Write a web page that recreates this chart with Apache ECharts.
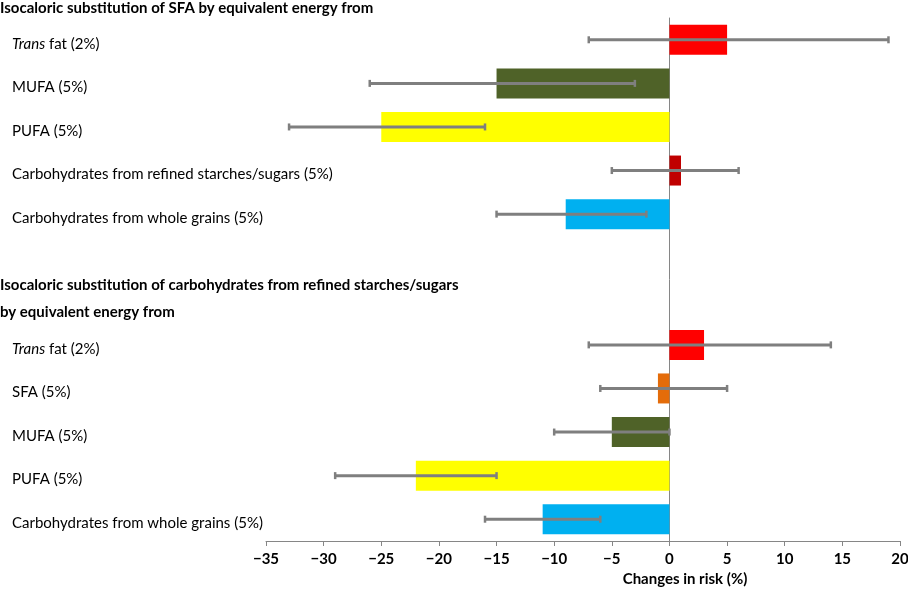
<!DOCTYPE html>
<html>
<head>
<meta charset="utf-8">
<script src="https://cdn.jsdelivr.net/npm/echarts@6/dist/echarts.min.js"></script>
<style>html,body{margin:0;padding:0;background:#fff}#c{width:908px;height:589px}</style>
</head>
<body>
<div id="c"></div>
<script>
// ---- data ----
var header1 = 'Isocaloric substitution of SFA by equivalent energy from';
var header2 = 'Isocaloric substitution of carbohydrates from refined starches/sugars\nby equivalent energy from';
var categories1 = ['Trans fat (2%)', 'MUFA (5%)', 'PUFA (5%)', 'Carbohydrates from refined starches/sugars (5%)', 'Carbohydrates from whole grains (5%)'];
var values1 = [5, -15, -25, 1, -9];
var low1 = [-7, -26, -33, -5, -15];
var high1 = [19, -3, -16, 6, -2];
var colors1 = ['#FF0000', '#4F6228', '#FFFF00', '#C00000', '#00B0F0'];

var categories2 = ['Trans fat (2%)', 'SFA (5%)', 'MUFA (5%)', 'PUFA (5%)', 'Carbohydrates from whole grains (5%)'];
var values2 = [3, -1, -5, -22, -11];
var low2 = [-7, -6, -10, -29, -16];
var high2 = [14, 5, 0, -15, -6];
var colors2 = ['#FF0000', '#E46C0A', '#4F6228', '#FFFF00', '#00B0F0'];

var gapRows = ['', ''];  // empty slots where the second heading sits
var xTicks = [-35, -30, -25, -20, -15, -10, -5, 0, 5, 10, 15, 20];
var xName = 'Changes in risk (%)';

// ---- combined (built from the arrays above) ----
var categories = categories1.concat(gapRows, categories2);
var values = values1.concat(gapRows.map(function () { return null; }), values2);
var colors = colors1.concat(gapRows.map(function () { return null; }), colors2);
var lows = low1.concat(gapRows.map(function () { return null; }), low2);
var highs = high1.concat(gapRows.map(function () { return null; }), high2);

// ---- chart ----
var FONT = 'Lato';
var FS = 15;
var chart = echarts.init(document.getElementById('c'));

function catLabel(v) {
  if (!v) return '';
  if (v.indexOf('Trans ') === 0) return '{i|Trans}{n|' + v.slice(5) + '}';
  return '{n|' + v + '}';
}
var labelRich = {
  i: { fontStyle: 'italic', fontFamily: FONT, fontSize: FS, color: '#000' },
  n: { fontFamily: FONT, fontSize: FS, color: '#000' }
};
function fmtX(v) { return v < 0 ? '\u2212' + Math.abs(v) : String(v); }

var xMin = xTicks[0], xMax = xTicks[xTicks.length - 1];

chart.setOption({
  animation: false,
  backgroundColor: '#fff',
  title: [
    { text: header1, left: 0, top: 0, padding: 0,
      textStyle: { fontFamily: FONT, fontWeight: 'bold', fontSize: FS, color: '#000', lineHeight: 17 } },
    { text: header2, left: 0, top: 272, padding: 0,
      textStyle: { fontFamily: FONT, fontWeight: 'bold', fontSize: FS, color: '#000', lineHeight: 27 } }
  ],
  grid: [
    { left: 266, right: 8, top: 18, height: 523, outerBoundsMode: 'none' },
    { left: 266, right: 8, top: 18, height: 523, outerBoundsMode: 'none' }
  ],
  xAxis: [
    { type: 'value', gridIndex: 0, min: xMin, max: xMax, interval: 5,
      splitLine: { show: false },
      axisLine: { show: true, onZero: false, lineStyle: { color: '#868686', width: 1 } },
      axisTick: { show: true, length: 5, lineStyle: { color: '#868686' } },
      axisLabel: { formatter: fmtX, margin: 11, fontFamily: FONT, fontWeight: 'bold', fontSize: FS, color: '#000' } },
    { type: 'value', gridIndex: 1, min: xMin, max: xMax, interval: 5,
      axisLine: { show: false }, axisTick: { show: false }, axisLabel: { show: false }, splitLine: { show: false } }
  ],
  yAxis: [
    { type: 'category', gridIndex: 0, data: categories, inverse: true,
      axisLine: { show: false }, axisTick: { show: false }, splitLine: { show: false },
      axisLabel: { formatter: catLabel, rich: labelRich, align: 'left', margin: 254, padding: [8, 0, 0, 0] } },
    { type: 'category', gridIndex: 1, data: [''],
      axisLine: { show: true, onZero: true, lineStyle: { color: '#868686', width: 1 } },
      axisTick: { show: false }, axisLabel: { show: false }, splitLine: { show: false } }
  ],
  graphic: [
    { type: 'text', x: 685, y: 579, style: { text: xName, align: 'center', verticalAlign: 'middle',
      fontFamily: FONT, fontWeight: 'bold', fontSize: FS, fill: '#000' } }
  ],
  series: [
    {
      type: 'bar', xAxisIndex: 0, yAxisIndex: 0, barWidth: 30, z: 2, silent: true,
      data: values.map(function (v, i) { return { value: v, itemStyle: { color: colors[i] } }; })
    },
    {
      type: 'custom', xAxisIndex: 0, yAxisIndex: 0, z: 5, silent: true,
      data: lows.map(function (l, i) { return l === null ? [null, null, i] : [l, highs[i], i]; }),
      renderItem: function (params, api) {
        if (api.value(0) === null || isNaN(api.value(0))) return null;
        var a = api.coord([api.value(0), api.value(2)]);
        var b = api.coord([api.value(1), api.value(2)]);
        var h = 3.5;
        var cap = { stroke: '#7F7F7F', lineWidth: 2.5 };
        return { type: 'group', children: [
          { type: 'line', shape: { x1: a[0], y1: a[1], x2: b[0], y2: b[1] }, style: { stroke: '#7F7F7F', lineWidth: 3 } },
          { type: 'line', shape: { x1: a[0], y1: a[1] - h, x2: a[0], y2: a[1] + h }, style: cap },
          { type: 'line', shape: { x1: b[0], y1: b[1] - h, x2: b[0], y2: b[1] + h }, style: cap }
        ] };
      }
    }
  ]
});
</script>
</body>
</html>
